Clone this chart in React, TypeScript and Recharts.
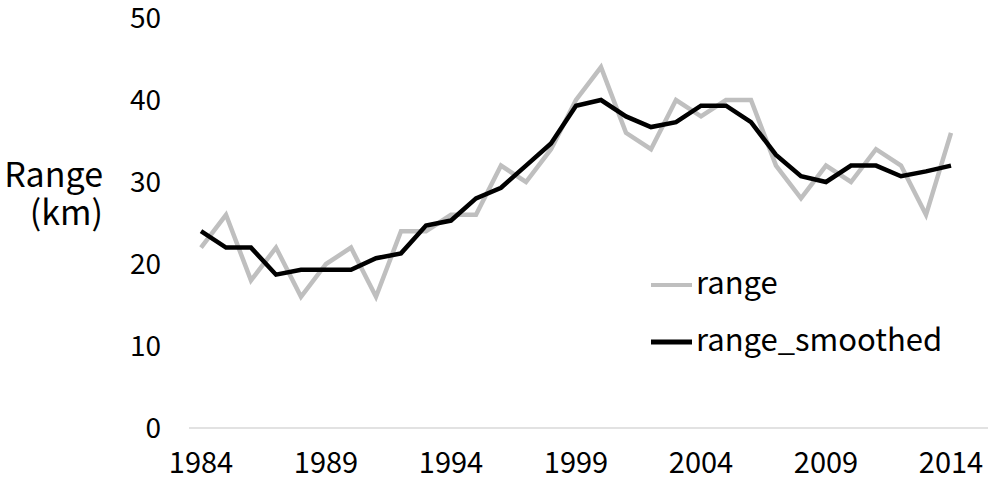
import { LineChart, Line, XAxis, YAxis } from "recharts";

const YEARS = [
  1984, 1985, 1986, 1987, 1988, 1989, 1990, 1991, 1992, 1993, 1994, 1995, 1996, 1997, 1998, 1999,
  2000, 2001, 2002, 2003, 2004, 2005, 2006, 2007, 2008, 2009, 2010, 2011, 2012, 2013, 2014,
];

const RANGE = [
  22, 26, 18, 22, 16, 20, 22, 16, 24, 24, 26, 26, 32, 30, 34, 40, 44, 36, 34, 40, 38, 40, 40, 32, 28,
  32, 30, 34, 32, 26, 36,
];

const RANGE_SMOOTHED = [
  24, 22, 22, 18.7, 19.3, 19.3, 19.3, 20.7, 21.3, 24.7, 25.3, 28, 29.3, 32, 34.7, 39.3, 40, 38, 36.7,
  37.3, 39.3, 39.3, 37.3, 33.3, 30.7, 30, 32, 32, 30.7, 31.3, 32,
];

const Y_TICKS = [0, 10, 20, 30, 40, 50];

const FONT = "'Noto Sans CJK JP', 'Noto Sans', sans-serif";
const GRAY = "#bfbfbf";

const data = YEARS.map((year, i) => ({
  year: String(year),
  range: RANGE[i],
  range_smoothed: RANGE_SMOOTHED[i],
}));

const LEGEND_ROWS = [
  { name: "range", color: GRAY, width: 4, y: 25 },
  { name: "range_smoothed", color: "#000", width: 5, y: 82 },
];

function YLabel() {
  return (
    <text x={103} y={187} textAnchor="end" fontFamily={FONT} fontSize={34} fill="#000">
      <tspan x={103} y={187}>Range</tspan>
      <tspan x={103} y={225}>(km)</tspan>
    </text>
  );
}

// legend drawn as an overlay so it doesn't eat into the plot area
function LegendBox() {
  return (
    <svg width={330} height={110} style={{ position: "absolute", left: 650, top: 260 }}>
      {LEGEND_ROWS.map((r) => (
        <g key={r.name}>
          <line x1={1} x2={42} y1={r.y} y2={r.y} stroke={r.color} strokeWidth={r.width} />
          <text x={46} y={r.y + 9} fontFamily={FONT} fontSize={31} fill="#000">
            {r.name}
          </text>
        </g>
      ))}
    </svg>
  );
}

export default function App() {
  return (
    <div style={{ position: "absolute", left: 0, top: 0, width: 992, height: 478, background: "#fff" }}>
      <LineChart width={992} height={478} data={data} margin={{ top: 18, right: 4, bottom: 0, left: 0 }}>
        <XAxis
          dataKey="year"
          interval={4}
          padding={{ left: 12, right: 37 }}
          height={50}
          tickLine={false}
          tickSize={0}
          tickMargin={24}
          axisLine={{ stroke: "#d9d9d9", strokeWidth: 1.5 }}
          tick={{ fontSize: 29, fontFamily: FONT, fill: "#000" }}
        />
        <YAxis
          domain={[0, 50]}
          ticks={Y_TICKS}
          width={189}
          axisLine={false}
          tickLine={false}
          tickSize={0}
          tickMargin={28}
          tick={{ fontSize: 28, fontFamily: FONT, fill: "#000" }}
          label={{ content: () => <YLabel /> }}
        />
        <Line
          dataKey="range"
          stroke={GRAY}
          strokeWidth={4.5}
          dot={false}
          isAnimationActive={false}
        />
        <Line
          dataKey="range_smoothed"
          stroke="#000"
          strokeWidth={4.5}
          dot={false}
          isAnimationActive={false}
        />
      </LineChart>
      <LegendBox />
    </div>
  );
}
